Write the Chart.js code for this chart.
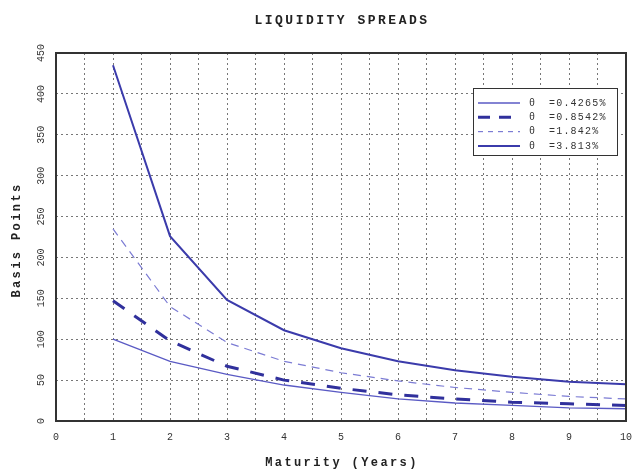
<!DOCTYPE html>
<html>
<head>
<meta charset="utf-8">
<script src="https://cdn.jsdelivr.net/npm/chart.js@4/dist/chart.umd.min.js"></script>
<style>
  html, body { margin: 0; padding: 0; background: #fff; }
  #wrap { width: 633px; height: 472px; }
</style>
</head>
<body>
<div id="wrap"><canvas id="chart"></canvas></div>
<script>
// Data
const maturities = [1, 2, 3, 4, 5, 6, 7, 8, 9, 10];
const spreadLow = [100, 73, 57, 44, 35, 27, 22, 19, 16, 15];
const spreadMid = [147, 98, 67, 50, 40, 32, 27, 23, 21, 19];
const spreadHigh = [235, 140, 96, 73, 59, 49, 41, 35, 30, 27];
const spreadTop = [435, 226, 148, 111, 89, 73, 62, 54, 48, 45];
const thetaLabels = ['=0.4265%', '=0.8542%', '=1.842%', '=3.813%'];
const xTicks = [0, 1, 2, 3, 4, 5, 6, 7, 8, 9, 10];
const yTicks = [0, 50, 100, 150, 200, 250, 300, 350, 400, 450];

const monoFont = "'Liberation Mono', 'DejaVu Sans Mono', monospace";

function toPoints(values) {
    return values.map((v, i) => ({ x: maturities[i], y: v }));
}

// Title, axis titles, frame and boxed legend
const decorPlugin = {
    id: 'decor',
    afterDraw(chart) {
        const ctx = chart.ctx;
        const area = chart.chartArea;
        const midX = (area.left + area.right) / 2;
        const midY = (area.top + area.bottom) / 2;
        ctx.save();

        ctx.fillStyle = '#222';
        ctx.textAlign = 'center';
        ctx.textBaseline = 'middle';

        // title
        ctx.font = 'bold 13px ' + monoFont;
        ctx.letterSpacing = '2.5px';
        ctx.fillText('LIQUIDITY SPREADS', midX + 1, 21);

        // axis titles
        ctx.font = 'bold 12px ' + monoFont;
        ctx.letterSpacing = '2.4px';
        ctx.fillText('Maturity (Years)', midX + 1, 463);
        ctx.save();
        ctx.translate(17, midY + 3);
        ctx.rotate(-Math.PI / 2);
        ctx.fillText('Basis Points', 0, 0);
        ctx.restore();
        ctx.letterSpacing = '0px';

        // plot frame
        ctx.strokeStyle = '#333';
        ctx.lineWidth = 2;
        ctx.strokeRect(area.left, area.top, area.right - area.left, area.bottom - area.top);

        // legend box
        const boxX = area.right - 153;
        const boxY = area.top + 35;
        const boxW = 144;
        const boxH = 67;
        ctx.fillStyle = '#fff';
        ctx.fillRect(boxX, boxY, boxW, boxH);
        ctx.strokeStyle = '#333';
        ctx.lineWidth = 1;
        ctx.strokeRect(boxX + 0.5, boxY + 0.5, boxW, boxH);

        ctx.font = '10px ' + monoFont;
        ctx.textAlign = 'left';
        chart.data.datasets.forEach((ds, i) => {
            const rowY = boxY + 15 + i * 14.3;
            ctx.beginPath();
            ctx.strokeStyle = ds.borderColor;
            ctx.lineWidth = ds.borderWidth;
            ctx.setLineDash(ds.legendDash || []);
            ctx.moveTo(boxX + 5, rowY);
            ctx.lineTo(boxX + 47, rowY);
            ctx.stroke();
            ctx.setLineDash([]);
            ctx.fillStyle = '#333';
            ctx.letterSpacing = '0px';
            ctx.fillText('\u03b8', boxX + 56, rowY);
            ctx.letterSpacing = '1.2px';
            ctx.fillText(thetaLabels[i], boxX + 76, rowY);
        });
        ctx.restore();
    }
};

const gridStyle = {
    color: '#777',
    lineWidth: 1,
    drawTicks: false
};

const chart = new Chart(document.getElementById('chart'), {
    type: 'line',
    data: {
        datasets: [
            {
                label: 'theta 0.4265%',
                data: toPoints(spreadLow),
                borderColor: '#5a5ac4',
                borderWidth: 1.3,
                legendDash: []
            },
            {
                label: 'theta 0.8542%',
                data: toPoints(spreadMid),
                borderColor: '#30309c',
                borderWidth: 3,
                borderDash: [14, 12],
                legendDash: [12, 9]
            },
            {
                label: 'theta 1.842%',
                data: toPoints(spreadHigh),
                borderColor: '#7c7cd4',
                borderWidth: 1.2,
                borderDash: [8, 6],
                legendDash: [5, 5]
            },
            {
                label: 'theta 3.813%',
                data: toPoints(spreadTop),
                borderColor: '#3b3bab',
                borderWidth: 2,
                legendDash: []
            }
        ]
    },
    options: {
        responsive: true,
        maintainAspectRatio: false,
        animation: false,
        elements: {
            point: { radius: 0 },
            line: { tension: 0, fill: false }
        },
        layout: { padding: { top: 53, right: 7, left: 0, bottom: 0 } },
        plugins: {
            legend: { display: false },
            title: { display: false },
            tooltip: { enabled: false }
        },
        scales: {
            x: {
                type: 'linear',
                min: 0,
                max: 10,
                grid: Object.assign({}, gridStyle),
                border: { display: false, dash: [2, 3] },
                ticks: {
                    stepSize: 0.5,
                    autoSkip: false,
                    maxRotation: 0,
                    padding: 10,
                    color: '#333',
                    font: { family: monoFont, size: 10 },
                    callback: v => (xTicks.includes(v) ? String(v) : '')
                },
                afterFit(scale) {
                    scale.height = 51;
                    scale.paddingLeft = 0;
                    scale.paddingRight = 0;
                }
            },
            y: {
                min: 0,
                max: 450,
                grid: Object.assign({}, gridStyle),
                border: { display: false, dash: [2, 3] },
                ticks: {
                    stepSize: 50,
                    minRotation: 90,
                    maxRotation: 90,
                    crossAlign: 'center',
                    padding: 6,
                    color: '#333',
                    font: { family: monoFont, size: 10 },
                    callback: v => (yTicks.includes(v) ? String(v) : '')
                },
                afterFit(scale) {
                    scale.width = 56;
                    scale.paddingTop = 0;
                    scale.paddingBottom = 0;
                }
            }
        }
    },
    plugins: [decorPlugin]
});
</script>
</body>
</html>
